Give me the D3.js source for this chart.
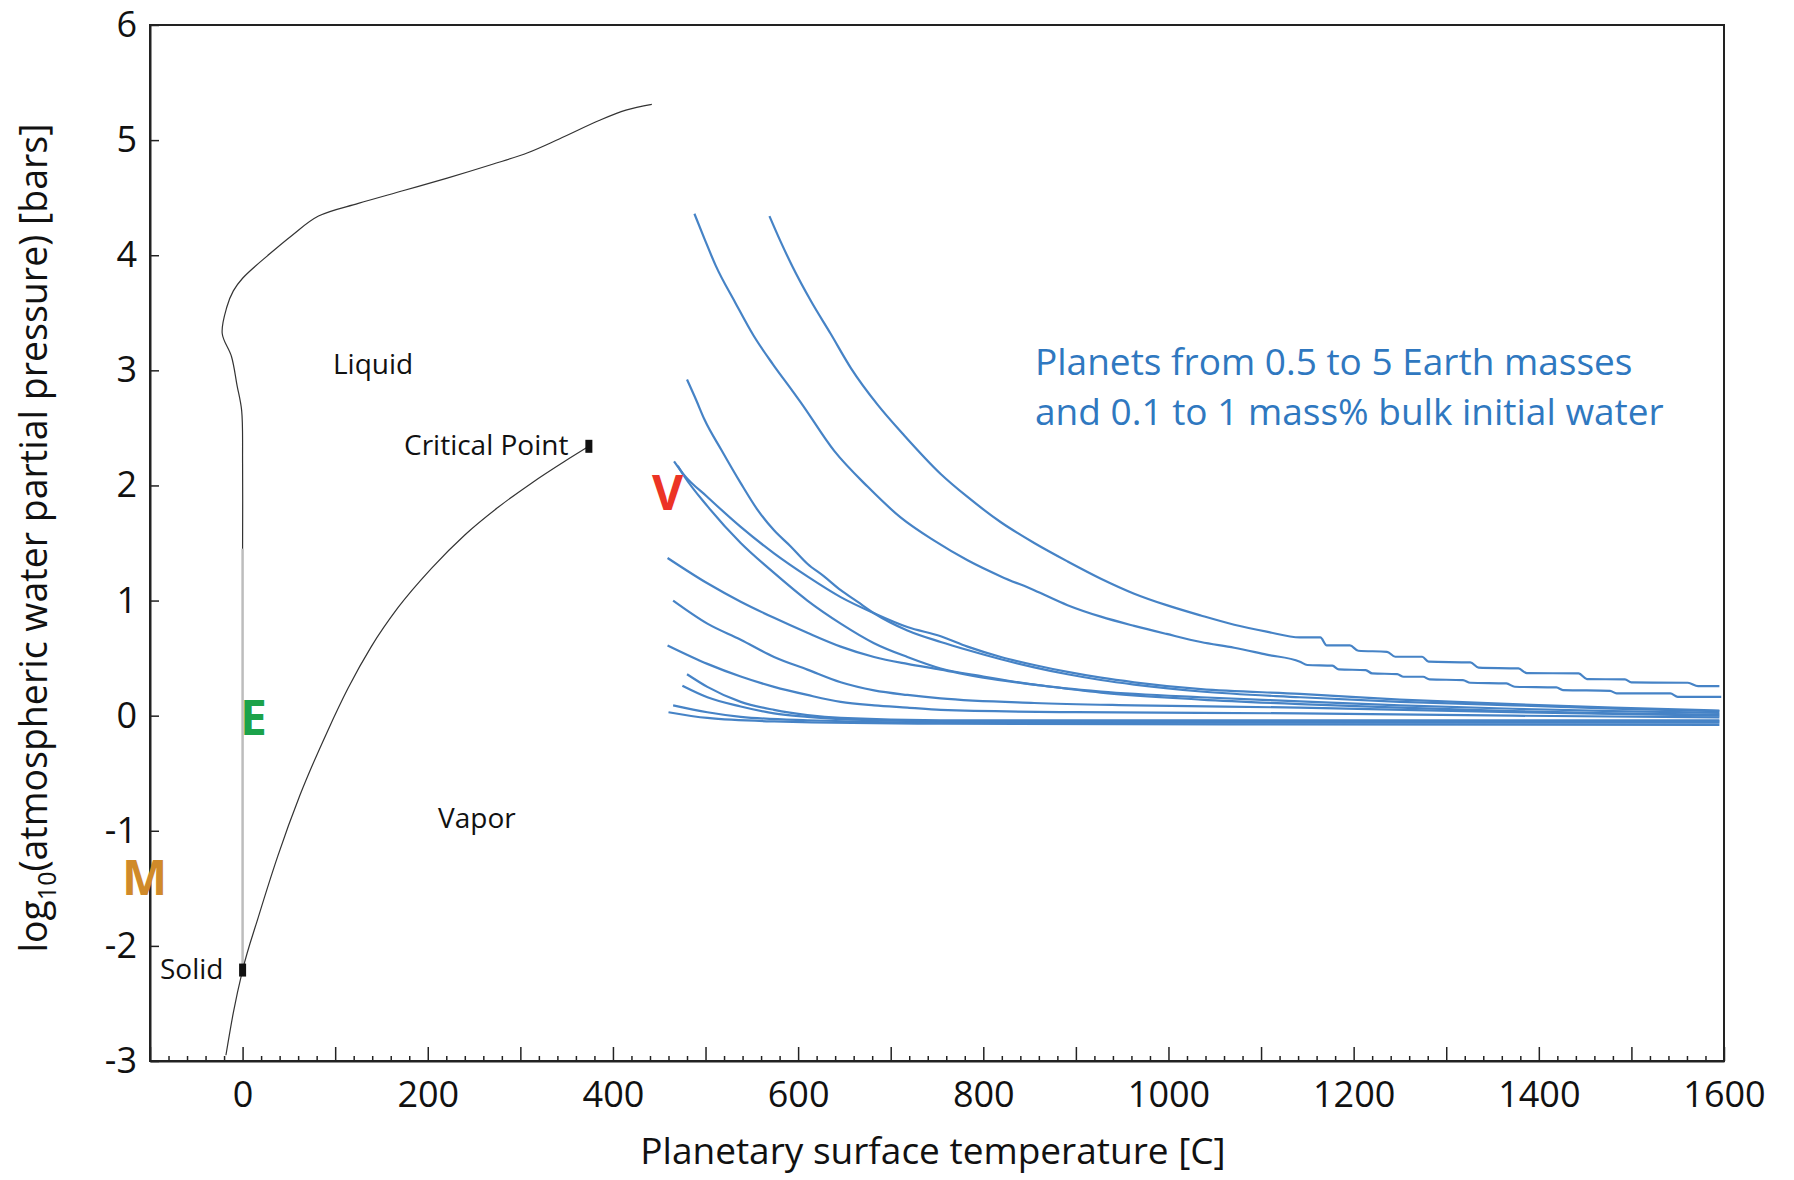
<!DOCTYPE html>
<html>
<head>
<meta charset="utf-8">
<script src="https://d3js.org/d3.v7.min.js"></script>
<style>
  body { margin: 0; background: #fff; }
  text { font-family: "Open Sans", "Noto Sans", sans-serif; }
</style>
</head>
<body>
<div id="viz"></div>
<script>
// phase boundaries of water: [temperature C, log10 pressure bars]
const vaporCurve = [[-18,-2.95],[-10,-2.58],[0,-2.21],[17,-1.75],[38,-1.22],[62,-0.69],[92,-0.13],[114,0.24],[139,0.60],[168,0.94],[204,1.28],[240,1.57],[276,1.81],[312,2.02],[348,2.21],[374,2.34]];
const meltCurve = [[0,1.45],[0,2.19],[-1,2.65],[-6,2.87],[-12,3.12],[-22,3.32],[-17,3.55],[-10,3.69],[0,3.80],[29,4.01],[53,4.17],[82,4.34],[125,4.45],[173,4.56],[221,4.67],[270,4.79],[308,4.89],[342,5.01],[385,5.17],[414,5.26],[442,5.31]];
const iceLine = [[0,-2.21],[0,1.45]];
const triplePoint = [0.01, -2.21];
const criticalPoint = [374, 2.34];

// planet tracks, 0.5-5 Earth masses, 0.1-1 mass% water
const track01 = [[569,4.34],[581,4.12],[594,3.90],[614,3.60],[635,3.32],[657,3.02],[686,2.70],[714,2.44],[754,2.10],[783,1.90],[819,1.68],[855,1.50],[891,1.34],[927,1.19],[963,1.06],[998,0.96],[1035,0.87],[1071,0.79],[1106,0.73],[1142,0.68],[1164,0.68],[1171,0.61],[1196,0.61],[1205,0.564],[1236,0.555],[1245,0.512],[1274,0.512],[1281,0.469],[1326,0.463],[1335,0.417],[1378,0.41],[1387,0.37],[1443,0.367],[1452,0.318],[1493,0.315],[1500,0.289],[1561,0.286],[1572,0.257],[1595,0.257]];
const track02 = [[488,4.36],[499,4.14],[511,3.91],[532,3.59],[552,3.30],[573,3.05],[594,2.82],[603,2.72],[639,2.30],[675,1.99],[711,1.72],[747,1.52],[783,1.35],[819,1.21],[855,1.09],[891,0.96],[927,0.86],[963,0.78],[998,0.71],[1035,0.64],[1071,0.59],[1106,0.53],[1142,0.469],[1150,0.44],[1177,0.434],[1184,0.402],[1213,0.396],[1220,0.367],[1247,0.361],[1254,0.338],[1275,0.338],[1282,0.315],[1318,0.309],[1326,0.286],[1365,0.28],[1374,0.251],[1419,0.245],[1426,0.222],[1477,0.216],[1484,0.193],[1542,0.193],[1550,0.164],[1597,0.164]];
const track03 = [[480,2.92],[490,2.74],[499,2.57],[517,2.31],[538,2.02],[556,1.79],[574,1.61],[592,1.47],[610,1.32],[628,1.21],[646,1.09],[664,0.99],[682,0.89],[718,0.74],[754,0.64],[783,0.57],[819,0.49],[855,0.42],[891,0.36],[927,0.31],[963,0.27],[1035,0.21],[1142,0.16],[1250,0.12],[1372,0.09],[1480,0.06],[1595,0.04]];
const track04 = [[466,2.21],[477,2.09],[502,1.90],[538,1.64],[574,1.41],[610,1.21],[646,1.03],[682,0.89],[718,0.77],[754,0.69],[783,0.60],[819,0.51],[855,0.44],[891,0.38],[927,0.33],[963,0.29],[1035,0.23],[1142,0.19],[1250,0.14],[1372,0.10],[1480,0.07],[1595,0.045]];
const track05 = [[470,2.17],[477,2.08],[502,1.82],[538,1.50],[574,1.24],[610,1.00],[646,0.80],[682,0.63],[718,0.51],[754,0.41],[800,0.34],[855,0.27],[927,0.21],[1035,0.16],[1142,0.125],[1250,0.09],[1372,0.06],[1480,0.04],[1595,0.025]];
const track06 = [[459,1.37],[502,1.15],[538,0.99],[574,0.85],[610,0.72],[646,0.60],[682,0.51],[718,0.45],[754,0.40],[800,0.33],[855,0.27],[927,0.20],[1035,0.14],[1142,0.10],[1250,0.07],[1372,0.04],[1480,0.02],[1595,0.01]];
const track07 = [[465,1.00],[502,0.80],[538,0.66],[574,0.51],[610,0.40],[646,0.29],[682,0.22],[718,0.18],[754,0.15],[855,0.11],[963,0.09],[1142,0.07],[1372,0.03],[1595,0.0]];
const track08 = [[459,0.61],[502,0.45],[538,0.34],[574,0.25],[610,0.18],[646,0.12],[682,0.09],[718,0.07],[754,0.05],[900,0.03],[1142,0.02],[1372,0.0],[1595,-0.015]];
const track09 = [[480,0.36],[502,0.25],[538,0.12],[574,0.05],[610,0.005],[646,-0.02],[754,-0.04],[1000,-0.04],[1595,-0.04]];
const track10 = [[475,0.26],[502,0.16],[538,0.08],[574,0.02],[610,-0.01],[680,-0.04],[754,-0.05],[1595,-0.05]];
const track11 = [[465,0.09],[502,0.03],[538,-0.01],[610,-0.04],[754,-0.06],[1595,-0.06]];
const track12 = [[460,0.03],[502,-0.02],[574,-0.05],[754,-0.07],[1595,-0.08]];
const planetTracks = [track01, track02, track03, track04, track05, track06, track07, track08, track09, track10, track11, track12];

// tick labels
const xTickLabels = [0, 200, 400, 600, 800, 1000, 1200, 1400, 1600];
const yTickLabels = [-3, -2, -1, 0, 1, 2, 3, 4, 5, 6];

const width = 1794, height = 1180;
const svg = d3.select("#viz")
  .append("svg")
    .attr("width", width)
    .attr("height", height);

const x = d3.scaleLinear().domain([-100, 1600]).range([150, 1724]);
const y = d3.scaleLinear().domain([-3, 6]).range([1061, 25]);

const line = d3.line().x(d => x(d[0])).y(d => y(d[1]));

// plot frame
svg.append("rect")
  .attr("x", x.range()[0]).attr("y", y.range()[1])
  .attr("width", x.range()[1] - x.range()[0])
  .attr("height", y.range()[0] - y.range()[1])
  .attr("fill", "none").attr("stroke", "#222").attr("stroke-width", 2);

// x axis, minor ticks every 20, major every 100
const xAxis = svg.append("g")
  .attr("transform", "translate(0," + y.range()[0] + ")")
  .call(d3.axisBottom(x)
    .tickValues(d3.range(-100, 1601, 20))
    .tickSizeInner(-5).tickSizeOuter(0).tickPadding(20)
    .tickFormat(d => xTickLabels.includes(d) ? d : ""));
xAxis.selectAll(".tick line")
  .attr("y2", d => d % 100 === 0 ? -14 : -5)
  .attr("stroke", "#222").attr("stroke-width", 1.5);

// y axis
const yAxis = svg.append("g")
  .attr("transform", "translate(" + x.range()[0] + ",0)")
  .call(d3.axisLeft(y)
    .tickValues(yTickLabels)
    .tickSizeInner(-9).tickSizeOuter(0).tickPadding(13)
    .tickFormat(d => String(d)));
yAxis.selectAll(".tick line").attr("stroke", "#222").attr("stroke-width", 1.5);

[xAxis, yAxis].forEach(g => {
  g.attr("font-size", 36).attr("font-family", "Open Sans");
  g.selectAll("text").attr("fill", "#111");
  g.select(".domain").attr("stroke", "#222").attr("stroke-width", 2);
});

// axis titles
svg.append("text")
  .attr("x", 933).attr("y", 1164)
  .attr("text-anchor", "middle")
  .attr("font-size", 37).attr("fill", "#111")
  .text("Planetary surface temperature [C]");

const yTitle = svg.append("text")
  .attr("transform", "translate(47,538) rotate(-90)")
  .attr("text-anchor", "middle")
  .attr("font-size", 37.5).attr("fill", "#111");
yTitle.append("tspan").text("log");
yTitle.append("tspan").attr("dy", 9).attr("font-size", 25).text("10");
yTitle.append("tspan").attr("dy", -9).text("(atmospheric water partial pressure) [bars]");

// phase diagram lines
svg.append("path")
  .datum(iceLine)
  .attr("fill", "none").attr("stroke", "#bdbdbd").attr("stroke-width", 2.5)
  .attr("d", line);

svg.append("path")
  .datum(meltCurve)
  .attr("fill", "none").attr("stroke", "#333").attr("stroke-width", 1.2)
  .attr("d", d3.line().x(d => x(d[0])).y(d => y(d[1])).curve(d3.curveCatmullRom.alpha(0.5)));

svg.append("path")
  .datum(vaporCurve)
  .attr("fill", "none").attr("stroke", "#333").attr("stroke-width", 1.2)
  .attr("d", d3.line().x(d => x(d[0])).y(d => y(d[1])).curve(d3.curveMonotoneX));

// triple and critical point markers
svg.selectAll(".pt")
  .data([triplePoint, criticalPoint])
  .enter().append("rect")
    .attr("x", d => x(d[0]) - 3.5).attr("y", d => y(d[1]) - 6.5)
    .attr("width", 7).attr("height", 13)
    .attr("fill", "#111");

// planet tracks
svg.selectAll(".track")
  .data(planetTracks)
  .enter().append("path")
    .attr("fill", "none")
    .attr("stroke", "#4683c6")
    .attr("stroke-width", 2.2)
    .attr("d", d3.line().x(d => x(d[0])).y(d => y(d[1])).curve(d3.curveMonotoneX));

// region labels
const labels = [
  {t: "Liquid", x: 333, y: 374},
  {t: "Critical Point", x: 404, y: 455},
  {t: "Vapor", x: 438, y: 828},
  {t: "Solid", x: 160, y: 979}
];
svg.selectAll(".lab")
  .data(labels)
  .enter().append("text")
    .attr("x", d => d.x).attr("y", d => d.y)
    .attr("font-size", 28).attr("fill", "#111")
    .text(d => d.t);

// planet letters
const letters = [
  {t: "E", x: 240, y: 735, c: "#1ba24a"},
  {t: "M", x: 122, y: 895, c: "#d08a2a"},
  {t: "V", x: 652, y: 510, c: "#ec3425"}
];
svg.selectAll(".let")
  .data(letters)
  .enter().append("text")
    .attr("x", d => d.x).attr("y", d => d.y)
    .attr("font-size", 48).attr("font-weight", 700)
    .attr("fill", d => d.c)
    .text(d => d.t);

// note
const note = svg.append("text")
  .attr("font-size", 37).attr("fill", "#2f78c0");
note.append("tspan").attr("x", 1035).attr("y", 375).text("Planets from 0.5 to 5 Earth masses");
note.append("tspan").attr("x", 1035).attr("y", 425).text("and 0.1 to 1 mass% bulk initial water");
</script>
</body>
</html>
